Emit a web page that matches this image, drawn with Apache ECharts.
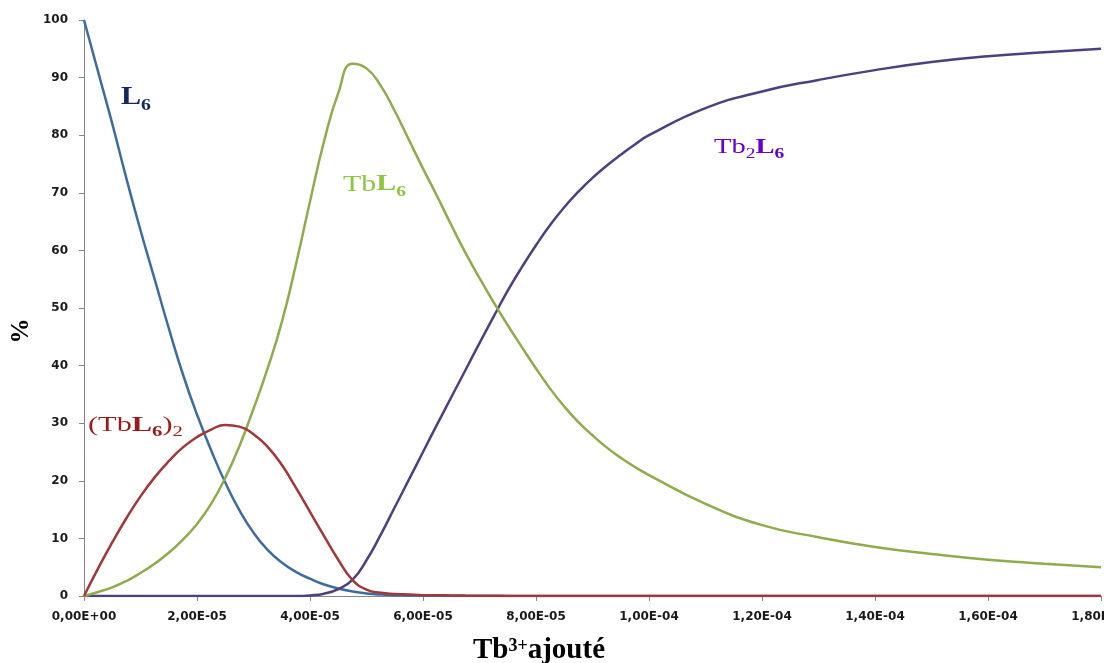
<!DOCTYPE html>
<html><head><meta charset="utf-8">
<script src="https://cdn.jsdelivr.net/npm/echarts@6/dist/echarts.min.js"></script>
<style>html,body{margin:0;padding:0;background:#fff}#c{width:1104px;height:663px}</style>
</head><body><div id="c"></div>
<script>
// x positions in units of 1e-5 (Tb3+ added)
const xUnit = 1e-5;
const xPoints = [0, 0.25, 0.5, 0.75, 1, 1.25, 1.5, 1.75, 2, 2.25, 2.5, 2.75, 3, 3.25, 3.5, 3.75, 4, 4.25, 4.5, 4.75,
                 5, 5.25, 5.5, 5.75, 6, 6.25, 6.5, 6.75, 7, 7.25, 7.5, 7.75, 8, 8.25, 8.5, 8.75, 9, 9.25, 9.5, 9.75,
                 10, 11, 12, 13, 14, 15, 16, 17, 18];
const valuesL6 =     [100, 91, 82, 72.5, 63.5, 55, 46.5, 38.5, 31.5, 25.3, 19.7, 14.9, 11, 8, 5.8, 4.2, 3, 2, 1.3, 0.8,
                      0.45, 0.25, 0.15, 0.1, 0.05, 0, 0, 0, 0, 0, 0, 0, 0, 0, 0, 0, 0, 0, 0, 0,
                      0, 0, 0, 0, 0, 0, 0, 0, 0];
const valuesTbL6_2 = [0, 4.8, 9.3, 13.5, 17.3, 20.6, 23.4, 25.8, 27.6, 28.9, 29.7, 29.4, 28.1, 25.9, 22.8, 18.8, 14.6, 10.4, 6.3, 2.8,
                      1.1, 0.55, 0.35, 0.25, 0.15, 0.12, 0.1, 0.07, 0.05, 0.03, 0.02, 0.01, 0, 0, 0, 0, 0, 0, 0, 0,
                      0, 0, 0, 0, 0, 0, 0, 0, 0];
const valuesTbL6 =   [0, 0.7, 1.5, 2.6, 4, 5.6, 7.5, 9.8, 12.5, 16, 20.5, 26, 32.5, 39.5, 47.5, 57.5, 68.5, 79, 87.3, 92.4,
                      91.6, 88.6, 84.2, 79.2, 74.2, 69.4, 64.4, 59.6, 55.2, 51, 47, 43.2, 39.5, 36, 32.9, 30.2, 27.9, 25.8, 24, 22.4,
                      21, 16, 12.3, 10.2, 8.5, 7.3, 6.3, 5.6, 5];
const valuesTb2L6 =  [0, 0, 0, 0, 0, 0, 0, 0, 0, 0, 0, 0, 0, 0, 0, 0, 0.1, 0.4, 1.2, 2.8,
                      6.2, 10.6, 15.4, 20.2, 25, 29.8, 34.5, 39.2, 43.9, 48.5, 53, 57.1, 60.9, 64.4, 67.5, 70.2, 72.6, 74.7, 76.6, 78.4,
                      80, 84.7, 87.6, 89.6, 91.3, 92.7, 93.7, 94.4, 95];

const xMin = 0, xMax = 18e-5, xStep = 2e-5;
const yMin = 0, yMax = 100, yStep = 10;

function fmtSci(v) {
  const s = v.toExponential(2);
  const parts = s.split('e');
  const n = parseInt(parts[1], 10);
  return parts[0].replace('.', ',') + 'E' + (n < 0 ? '-' : '+') + String(Math.abs(n)).padStart(2, '0');
}
function pts(arr) { return xPoints.map((x, i) => [x * xUnit, arr[i]]); }

const serif = '"Liberation Serif","Times New Roman",serif';
const tickFont = '"DejaVu Sans",Verdana,sans-serif';

function sub(size, pad) {
  return { fontSize: size, lineHeight: size + 1, fontWeight: 'bold', fontFamily: serif, verticalAlign: 'top', padding: [pad, 0, 0, 0] };
}
function mainTok(size, weight) {
  return { fontSize: size, lineHeight: size + 1, fontWeight: weight, fontFamily: serif, verticalAlign: 'top' };
}
function lineSeries(name, arr, color) {
  return { name: name, type: 'line', data: pts(arr), smooth: 0.5, showSymbol: false,
    lineStyle: { color: color, width: 2.5 }, itemStyle: { color: color } };
}

const chart = echarts.init(document.getElementById('c'), null, { renderer: 'canvas' });
chart.setOption({
  backgroundColor: '#ffffff',
  animation: false,
  grid: { left: 84, right: 3, top: 20, bottom: 67, containLabel: false, outerBoundsMode: 'none' },
  xAxis: {
    type: 'value', min: xMin, max: xMax, interval: xStep,
    axisLine: { show: true, lineStyle: { color: '#868686', width: 1 } },
    axisTick: { show: true, inside: false, length: 5, lineStyle: { color: '#868686' } },
    axisLabel: { formatter: fmtSci, margin: 15, color: '#1a1a1a', fontSize: 12, fontWeight: 'bold', fontFamily: tickFont, showMaxLabel: true, hideOverlap: false },
    splitLine: { show: false }
  },
  yAxis: {
    type: 'value', min: yMin, max: yMax, interval: yStep,
    axisLine: { show: true, lineStyle: { color: '#868686', width: 1 } },
    axisTick: { show: true, inside: false, length: 5, lineStyle: { color: '#868686' } },
    axisLabel: { margin: 16, color: '#1a1a1a', fontSize: 12, fontWeight: 'bold', fontFamily: tickFont },
    splitLine: { show: false }
  },
  series: [
    lineSeries('L6', valuesL6, '#3f6c9f'),
    lineSeries('Tb2L6', valuesTb2L6, '#4f3f7c'),
    lineSeries('TbL6', valuesTbL6, '#8fab4c'),
    lineSeries('(TbL6)2', valuesTbL6_2, '#a0373a')
  ],
  graphic: [
    { type: 'text', x: 121, y: 84, scaleX: 1.16, style: { text: '{b|L}{s|6}', fill: '#14285e', align: 'left', verticalAlign: 'top',
      rich: { b: mainTok(26, 'bold'), s: sub(17, 13) } } },
    { type: 'text', x: 88, y: 414, scaleX: 1.38, style: { text: '{r|(Tb}{b|L}{s|6}{r|)}{t|2}', fill: '#9b1b1b', align: 'left', verticalAlign: 'top',
      rich: { r: mainTok(22, 'normal'), b: mainTok(22, 'bold'), s: sub(15, 11), t: Object.assign(sub(15, 11), { fontWeight: 'normal' }) } } },
    { type: 'text', x: 343, y: 173, scaleX: 1.3, style: { text: '{r|Tb}{b|L}{s|6}', fill: '#8dc63f', align: 'left', verticalAlign: 'top',
      rich: { r: mainTok(23, 'normal'), b: mainTok(23, 'bold'), s: sub(15, 12) } } },
    { type: 'text', x: 714, y: 136, scaleX: 1.3, style: { text: '{r|Tb}{t|2}{b|L}{s|6}', fill: '#6600cc', align: 'left', verticalAlign: 'top',
      rich: { r: mainTok(22, 'normal'), b: mainTok(22, 'bold'), s: sub(15, 11), t: Object.assign(sub(15, 11), { fontWeight: 'normal' }) } } },
    { type: 'text', x: 539, y: 636, style: { text: '{m|Tb}{p|3+}{m|ajouté}', fill: '#000', align: 'center', verticalAlign: 'top',
      rich: { m: mainTok(29, 'bold'), p: { fontSize: 18, lineHeight: 19, fontWeight: 'bold', fontFamily: serif, verticalAlign: 'top', padding: [1, 0, 0, 0] } } } },
    { type: 'text', x: 22, y: 331, rotation: Math.PI / 2, style: { text: '{p|%}', fill: '#000', align: 'center', verticalAlign: 'middle',
      rich: { p: { fontSize: 25, lineHeight: 26, fontWeight: 'bold', fontFamily: serif } } } }
  ]
});
</script>
</body></html>
